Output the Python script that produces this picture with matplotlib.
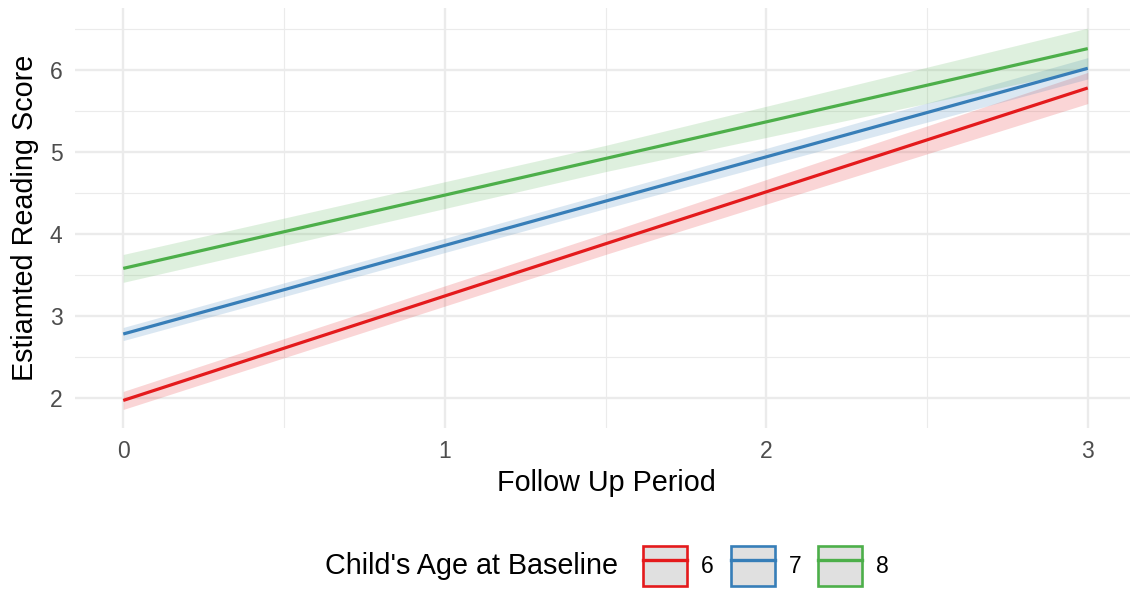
import matplotlib
matplotlib.use('Agg')
import matplotlib.pyplot as plt
from matplotlib.patches import Patch
from matplotlib.lines import Line2D
import numpy as np

plt.rcParams['font.family'] = ['Liberation Sans', 'DejaVu Sans']

# follow up period where the fit was read
period = [0, 1.5, 3]

# fitted reading score per baseline age
ages = ['6', '7', '8']
fit_6 = [1.97, 3.88, 5.78]
fit_7 = [2.78, 4.40, 6.02]
fit_8 = [3.58, 4.92, 6.26]

# half width of the confidence band
band_6 = [0.11, 0.13, 0.19]
band_7 = [0.08, 0.09, 0.13]
band_8 = [0.17, 0.16, 0.25]

colors = ['#E41A1C', '#377EB8', '#4DAF4A']

W, H = 1130, 592
fig = plt.figure(figsize=(W / 100, H / 100), dpi=100)
fig.set_facecolor('white')

# panel in pixel coords: left 75, right 1136, top 8, bottom 428
ax = fig.add_axes([75 / W, 1 - 428 / H, (1136 - 75) / W, (428 - 8) / H])

for fit, band, col in zip([fit_6, fit_7, fit_8], [band_6, band_7, band_8], colors):
    fit = np.array(fit)
    band = np.array(band)
    ax.fill_between(period, fit - band, fit + band, color=col, alpha=0.18, lw=0, zorder=2)
    ax.plot(period, fit, color=col, lw=2.3, solid_capstyle='butt', zorder=3)

ax.set_xlim(-0.15, 3.15)
ax.set_ylim(1.634, 6.755)
ax.set_xticks([0, 1, 2, 3])
ax.set_yticks([2, 3, 4, 5, 6])
ax.set_xticks([0.5, 1.5, 2.5], minor=True)
ax.set_yticks([2.5, 3.5, 4.5, 5.5, 6.5], minor=True)
ax.grid(which='major', color='#EBEBEB', lw=1.7, zorder=0)
ax.grid(which='minor', color='#EBEBEB', lw=0.85, zorder=0)
ax.set_axisbelow(True)
for s in ax.spines.values():
    s.set_visible(False)
ax.tick_params(which='both', length=0)
ax.tick_params(axis='y', labelsize=16.5, labelcolor='#4D4D4D', pad=9)
ax.tick_params(axis='x', labelsize=16.5, labelcolor='#4D4D4D', pad=9)

fig.text(606 / W, 1 - 483 / H, 'Follow Up Period', fontsize=20.7, ha='center', va='center')
fig.text(25 / W, 1 - 218 / H, 'Estiamted Reading Score', fontsize=20.7, ha='center', va='center',
         rotation=90)

# legend at the bottom, title on the left
fig.text(325 / W, 1 - 566 / H, "Child's Age at Baseline", fontsize=20.7, ha='left', va='center')
handles = [(Patch(facecolor='#E0E0E0', edgecolor=c, lw=1.9), Line2D([], [], color=c, lw=2.4))
           for c in colors]
fig.legend(handles, ages, loc='center', bbox_to_anchor=(766 / W, 1 - 566 / H), ncol=3,
           frameon=False, fontsize=16.5, handlelength=1.92, handleheight=2.3,
           handletextpad=0.62, columnspacing=0.72, borderpad=0, borderaxespad=0)

fig.savefig('out.png', dpi=100)
